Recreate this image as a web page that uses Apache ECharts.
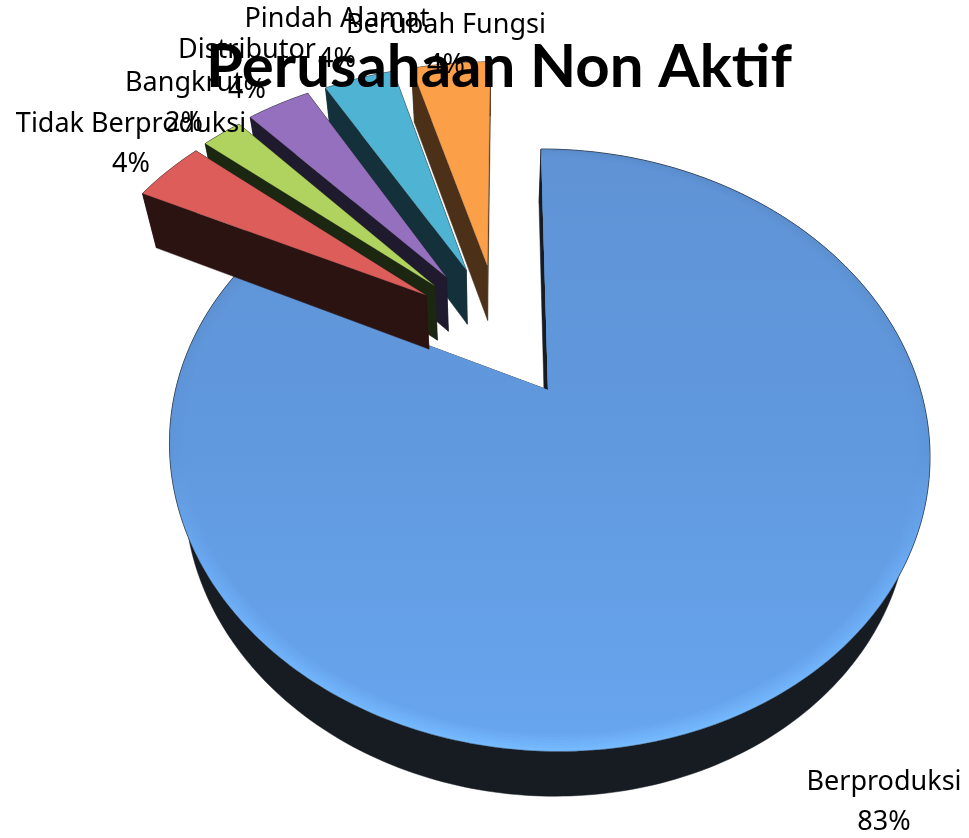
<!DOCTYPE html>
<html>
<head>
<meta charset="utf-8">
<style>html,body{margin:0;padding:0;background:#fff}#c{width:969px;height:838px}</style>
<script src="https://cdn.jsdelivr.net/npm/echarts@6/dist/echarts.min.js"></script>
</head>
<body>
<div id="c"></div>
<script>
const categories = ['Berproduksi', 'Tidak Berproduksi', 'Bangkrut', 'Distributor', 'Pindah Alamat', 'Berubah Fungsi'];
const values = [82.5, 3.9, 2.2, 3.5, 3.9, 4.4];
const faceColors = ['#649ce2', '#dc5d5a', '#b0d25f', '#9570bf', '#4fb4d4', '#fb9f48'];
const wallColors = ['#171c23', '#2a1311', '#1c2712', '#1f1a2d', '#14303b', '#4c3118'];
const explodeU = [0, -0.342, -0.318, -0.286, -0.229, -0.167];
const explodeV = [0, -0.351, -0.387, -0.423, -0.452, -0.468];
const labelX = [884, 131, 184, 247, 337, 446];
const labelY = [802, 144, 103, 70, 39, 45];

const LABEL_FONT = '"Noto Sans", "Open Sans", sans-serif';
const TITLE_FONT = 'Lato, "Open Sans", sans-serif';
const total = values.reduce((a, b) => a + b, 0);
const CX = 548, CY = 390, RX = 372.5, AY = 211.2, PERSP = -0.2, SKEW = 8.4;
const VPX = 490, VPY = 1550;

function project(u, v) {
  const d = 1 + PERSP * v;
  return [CX + (RX * u + SKEW * v) / d, (CY + AY * v) / d];
}
function drop(p) {
  const f = 0.04 + 0.016 * (p[1] - 190) / 562;
  return [p[0] + f * (VPX - p[0]), p[1] + f * (VPY - p[1])];
}
function rim(a0, a1, du, dv, r) {
  const pts = [];
  const n = Math.max(2, Math.ceil(a1 - a0));
  for (let i = 0; i <= n; i++) {
    const a = (a0 + (a1 - a0) * i / n) * Math.PI / 180;
    pts.push(project(du + r * Math.sin(a), dv - r * Math.cos(a)));
  }
  return pts;
}
function vGrad(stops) {
  return new echarts.graphic.LinearGradient(0, 0, 0, 1, stops.map(c => ({ offset: c[0], color: c[1] })));
}

function renderItem(params, api) {
  const i = api.value(0);
  const val = api.value(1);
  let before = 0;
  for (let k = 0; k < i; k++) before += values[k];
  const a0 = before / total * 360, a1 = (before + val) / total * 360;
  const du = explodeU[i], dv = explodeV[i];
  const base = i === 0 ? 0 : 20 * (6 - i);
  const apex = project(du, dv);
  const top = rim(a0, a1, du, dv, 1);
  const bot = top.map(drop);
  const apexB = drop(apex);
  const wallStyle = { fill: wallColors[i], stroke: wallColors[i], lineWidth: 0.5 };
  const kids = [];
  kids.push({ type: 'polygon', z2: base, shape: { points: [apex, top[0], bot[0], apexB] }, style: wallStyle });
  kids.push({ type: 'polygon', z2: base, shape: { points: [apex, top[top.length - 1], bot[bot.length - 1], apexB] }, style: wallStyle });
  kids.push({ type: 'polygon', z2: base + 1, shape: { points: top.concat(bot.slice().reverse()) }, style: wallStyle });
  if (i === 0) {
    kids.push({
      type: 'polygon', z2: base + 2, shape: { points: [apex].concat(top) },
      style: {
        fill: vGrad([[0, '#5a8ccb'], [0.5, '#5f96da'], [0.72, '#6cadf6'], [1, '#76baff']]),
        stroke: 'rgba(25,35,50,0.5)', lineWidth: 0.8
      }
    });
    const layers = 6;
    for (let k = 1; k <= layers; k++) {
      kids.push({
        type: 'polygon', z2: base + 2 + k,
        shape: { points: [apex].concat(rim(a0, a1, 0, 0, 1 - 0.0065 * k)) },
        style: {
          fill: vGrad([[0, '#5f93d6'], [0.5, '#6199de'], [1, '#67a5ee']]),
          opacity: 1 / (layers + 1 - k)
        }
      });
    }
  } else {
    kids.push({
      type: 'polygon', z2: base + 2, shape: { points: [apex].concat(top) },
      style: { fill: faceColors[i], stroke: 'rgba(60,60,60,0.35)', lineWidth: 0.6 }
    });
  }
  kids.push({
    type: 'text', z2: 1000, x: labelX[i], y: labelY[i], silent: true,
    style: {
      text: categories[i] + '\n' + Math.round(val) + '%', fill: '#000', font: '27px ' + LABEL_FONT,
      align: 'center', verticalAlign: 'middle', lineHeight: 40
    }
  });
  return { type: 'group', children: kids };
}

const chart = echarts.init(document.getElementById('c'), null, { renderer: 'canvas' });
chart.setOption({
  animation: false,
  backgroundColor: '#fff',
  title: {
    text: 'Perusahaan Non Aktif', left: 494, top: 26, textAlign: 'center',
    textStyle: { fontFamily: TITLE_FONT, fontWeight: 'bold', fontSize: 60, color: '#000', lineHeight: 74 }
  },
  series: [{
    type: 'custom',
    coordinateSystem: 'none',
    silent: true,
    clip: false,
    renderItem: renderItem,
    encode: { value: 1 },
    data: categories.map((c, i) => ({ name: c, value: [i, values[i]] }))
  }]
});
</script>
</body>
</html>
